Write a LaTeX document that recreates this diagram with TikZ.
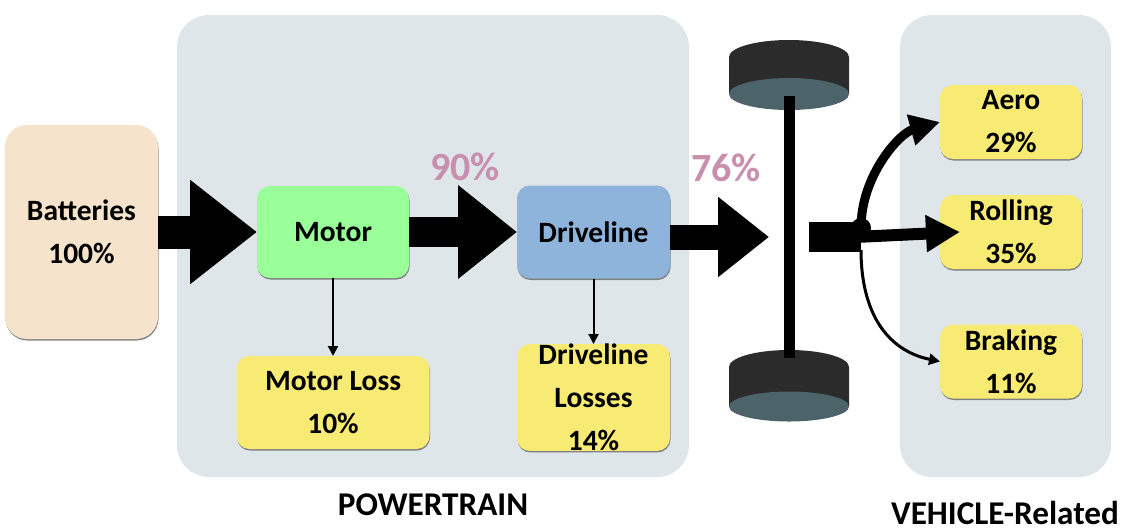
\documentclass[tikz,border=0pt]{standalone}
\usepackage{fontspec}
\setmainfont{Carlito}
\usetikzlibrary{arrows.meta,positioning,shadows}
\definecolor{panelgray}{HTML}{DFE6EA}
\definecolor{batteryfill}{HTML}{F5E3CB}
\definecolor{motorfill}{HTML}{99FF99}
\definecolor{drivefill}{HTML}{8EB4DC}
\definecolor{lossfill}{HTML}{F8EB73}
\definecolor{pctpink}{HTML}{C88FAE}
\definecolor{tiredark}{HTML}{2B2B2B}
\definecolor{tireface}{HTML}{4C6369}
\begin{document}
\begin{tikzpicture}[x=1pt,y=-1pt,>=Triangle,
                    node distance=108pt,
                    outer sep=0pt,inner sep=0pt]
	\tikzstyle{panel}=[fill=panelgray,rounded corners=32pt]
	\tikzstyle{block}=[rounded corners=13pt,align=center,font=\fontsize{29.5}{43}\selectfont\bfseries,
	                   drop shadow={shadow xshift=0.5pt,shadow yshift=-1.5pt,fill=black!60,opacity=0.8}]
	\tikzstyle{lossbox}=[block,fill=lossfill]
	\tikzstyle{sidebox}=[lossbox,minimum width=142pt,minimum height=74pt]
	\tikzstyle{caption}=[font=\fontsize{33.2}{36}\selectfont\bfseries]
	\tikzstyle{percent}=[font=\fontsize{40}{40}\selectfont\bfseries,text=pctpink]
	\tikzstyle{bigflow}=[line width=33pt,-{Triangle[length=67pt,width=100pt]}]
	\tikzstyle{midflow}=[line width=30pt,-{Triangle[length=59pt,width=90pt]}]
	\tikzstyle{lossflow}=[line width=2pt,-{Triangle[length=10pt,width=10pt]}]

	\useasboundingbox (0,0) rectangle (1124,531);

	\node[panel,minimum width=512pt,minimum height=462pt] (powertrain) at (433,246) {};
	\node[panel,minimum width=211pt,minimum height=462pt] (vehicle) at (1005.5,246) {};

	\node[block,fill=batteryfill,rounded corners=22pt,minimum width=153pt,minimum height=214pt] (batteries) at (81.5,232) {Batteries\\100\%};
	\node[block,fill=motorfill,minimum width=152pt,minimum height=92pt] (motor) at (333,232) {Motor};
	\node[block,fill=drivefill,minimum width=153pt,minimum height=93pt] (driveline) [right=of motor] {Driveline};
	\node[lossbox,minimum width=193pt,minimum height=93pt] (motorloss) at (333,402.5) {Motor Loss\\10\%};
	\node[lossbox,minimum width=153pt,minimum height=103pt] (drivelosses) at (593.5,397.5) {Driveline\\Losses\\14\%};

	\node[sidebox] (aero) at (1011,122) {Aero\\29\%};
	\node[sidebox] (rolling) at (1011,232) {Rolling\\35\%};
	\node[sidebox] (braking) at (1011,361.5) {Braking\\11\%};

	% wheels
	\foreach \wtop/\wbot/\wry in {57/94/16,367/406.5/15} {
		\fill[tiredark] (729,\wbot) -- (729,\wtop) arc[start angle=180,end angle=360,x radius=60,y radius=17] -- (849,\wbot) -- cycle;
		\fill[tireface] (789,\wbot) ellipse[x radius=60,y radius=\wry];
	}
	\node[fill=black,minimum width=11pt,minimum height=262pt] (axle) at (789.5,227) {};

	\coordinate (drivetip) at (769,237);
	\coordinate (axleout) at (809,237);
	\node[circle,fill=black,minimum size=20pt] (hub) at (861,228) {};

	\draw[bigflow] (batteries.east) -- (motor.west);
	\draw[midflow] (motor.east) -- (driveline.west);
	\draw[line width=25pt,-{Triangle[length=51pt,width=77pt]}] (driveline.east |- drivetip) -- (drivetip);
	\draw[lossflow] (motor.south) -- (motorloss.north -| motor.south);
	\draw[lossflow] (driveline.south) -- (drivelosses.north);

	\draw[line width=30pt] (axleout) -- (861,237);
	\draw[line width=12pt,-{Triangle[length=34pt,width=35pt]}] (855,237) -- ([xshift=20pt]rolling.west);
	\draw[line width=9pt,-{Triangle[length=30pt,width=30pt]}] (hub.center) .. controls (861,175) and (900,133) .. (aero.west);
	\draw[line width=3pt,-{Triangle[length=11pt,width=11pt]}] (861,250) .. controls (861,310) and (885,350) .. (braking.west);

	\node[percent] (pctninety) at (465,167) {90\%};
	\node[percent] (pctseventysix) at (726,168) {76\%};
	\node[caption] (ptlabel) at (433,505) {POWERTRAIN};
	\node[caption] (vehlabel) at (1005,513) {VEHICLE-Related};
\end{tikzpicture}
\end{document}
